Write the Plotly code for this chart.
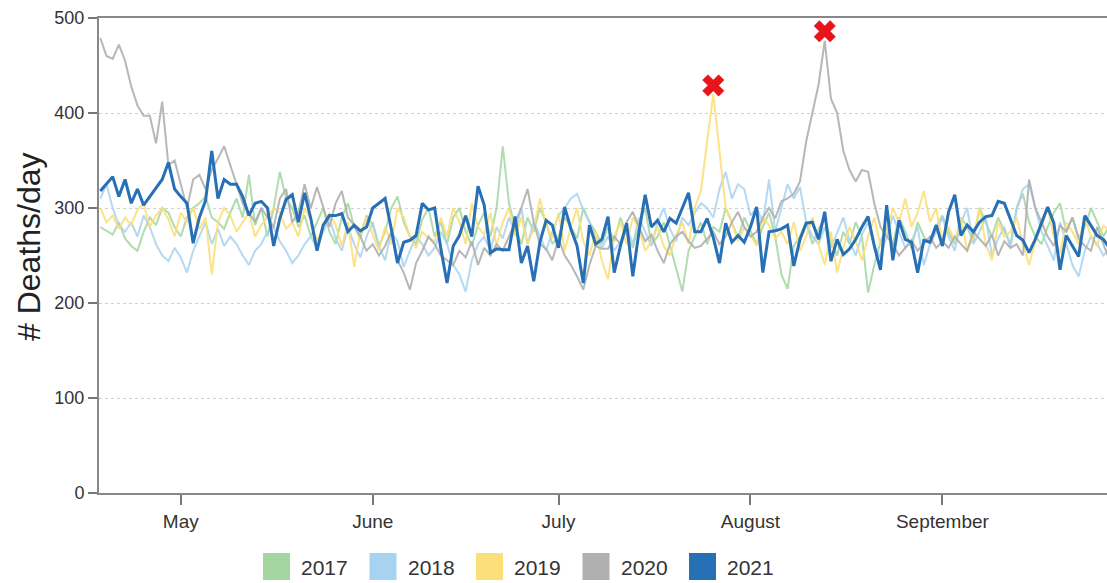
import plotly.graph_objects as go
import pandas as pd

# ---------------- data ----------------
years = ["2017", "2018", "2019", "2020", "2021"]
start_date = "2021-04-18"
month_ticks = ["2021-05-01", "2021-06-01", "2021-07-01", "2021-08-01", "2021-09-01"]
month_labels = ["May", "June", "July", "August", "September"]
y_ticks = [0, 100, 200, 300, 400, 500]

deaths_2017 = [
    280, 276, 272, 285, 268, 260, 255, 275, 290, 282, 300, 295, 280, 270, 290, 300, 305, 312, 290, 285,
    278, 295, 310, 290, 335, 282, 300, 270,
    300, 338, 310, 300, 280, 292, 270, 285, 300, 275, 262, 290, 305, 280, 268, 292, 282, 260, 275, 300,
    312, 285, 270, 262, 288, 300,
    270, 285, 262, 290, 300, 275, 260, 282, 295, 270, 300, 365, 305, 280, 262, 290, 275, 300, 285, 262,
    270, 290, 280, 268, 300, 285, 275, 262,
    280, 265, 290, 272, 258, 285, 300, 262, 270, 285, 260, 235, 212, 255, 270, 285, 262, 280, 275, 300,
    285, 268, 290, 275, 262, 280, 295, 270,
    230, 215, 260, 270, 285, 262, 278, 290, 265, 250, 275, 262, 285, 270, 211, 240, 265, 280, 262, 290,
    275, 258, 285, 270, 262, 280, 292,
    275, 262, 290, 280, 265, 300, 285, 270, 290, 275, 262, 300, 315, 285, 270, 262, 280, 295, 305, 275,
    290, 268, 280, 300, 285, 270, 282,
]
deaths_2018 = [
    310, 325, 300, 282, 275, 285, 270, 292, 280, 262, 250, 244, 258, 248, 232, 255, 270, 285, 262, 278,
    260, 270, 262, 250, 240, 255, 262, 275,
    280, 265, 255, 242, 250, 262, 270, 258, 275, 290, 268, 255, 280, 262, 248, 270, 285, 260, 245, 275,
    265, 238, 255, 270, 262, 250,
    258, 275, 262, 240, 230, 212, 245, 262, 270, 255, 280, 268, 290, 275, 300, 262, 285, 270, 255, 275,
    292, 300, 310, 315, 298, 285, 270, 258,
    270, 255, 265, 280, 262, 290, 275, 260, 285, 300, 278, 265, 290, 282, 295, 305, 300, 290, 320, 338,
    310, 325, 320, 292, 300, 285, 330, 275,
    300, 325, 310, 322, 285, 270, 262, 280, 258, 275, 290, 265, 250, 272, 285, 260, 248, 270, 292, 275,
    258, 265, 280, 240, 262, 275, 290,
    270, 255, 285, 300, 262, 275, 290, 250, 268, 280, 258, 300, 320, 325, 300, 275, 260, 245, 285, 262,
    240, 228, 255, 270, 262, 250, 258,
]
deaths_2019 = [
    300, 285, 292, 278, 290, 282, 298, 305, 280, 292, 300, 288, 270, 295, 285, 300, 278, 290, 230, 285,
    300, 292, 275, 285, 295, 270, 282, 290,
    300, 295, 278, 285, 270, 300, 288, 265, 280, 295, 282, 260, 285, 238, 275, 290, 272, 255, 280, 262,
    300, 290, 270, 258, 275, 268,
    265, 290, 270, 300, 285, 262, 305, 280, 272, 295, 260, 285, 300, 270, 290, 262, 278, 310, 282, 268,
    295, 255, 280, 300, 265, 250, 275, 245,
    225, 270, 285, 262, 290, 278, 255, 265, 280, 260, 250, 272, 285, 262, 300, 318, 370, 420, 360, 300,
    285, 265, 280, 272, 260, 290, 282, 268,
    275, 262, 285, 255, 270, 290, 262, 240, 275, 232, 258, 280, 265, 245, 270, 290, 260, 275, 300, 285,
    310, 280, 295, 318, 285, 300, 265,
    280, 265, 290, 255, 270, 300, 262, 245, 285, 270, 275, 290, 262, 240, 265, 280, 300, 270, 252, 285,
    275, 262, 290, 270, 260, 282, 275,
]
deaths_2020 = [
    479, 460, 457, 472, 455, 428, 408, 397, 397, 368, 412, 345, 350, 325, 300, 330, 335, 320, 340, 352,
    365, 345, 325, 305,
    295, 285, 300, 290, 280, 310, 320, 285, 295, 325, 300, 322, 300, 280, 305, 318, 290, 282, 270, 255,
    262, 250, 260, 275, 245, 232, 214, 242, 255, 270,
    262, 250, 245, 240, 255, 248, 265, 240, 258, 250, 262, 255, 270, 285, 300, 320, 285, 262, 257, 245,
    268, 250, 240, 228, 214, 240, 260, 257,
    257, 270, 262, 285, 296, 280, 265, 272, 255, 242, 262, 270, 275, 265, 258, 260, 268, 275, 262, 270,
    285, 296, 280, 270, 275, 290, 300, 289,
    307, 310, 315, 328, 370, 400, 430, 476, 415, 400, 360, 340, 328, 340, 338, 305, 280, 270, 262, 250,
    258, 266, 255, 262, 270, 258, 265,
    258, 270, 262, 255, 275, 268, 260, 272, 250, 265, 258, 262, 250, 330, 300, 285, 270, 260, 282, 275,
    290, 268, 260, 255, 280, 262, 245,
]
deaths_2021 = [
    318, 325, 333, 312, 330, 305, 320, 303, 312, 322, 330, 348, 320, 312, 305, 263, 290, 308, 360, 310,
    330, 325, 325, 312, 292, 305, 307, 300,
    260, 289, 309, 314, 285, 316, 289, 255, 282, 292, 292, 294, 275, 282, 276, 280, 300, 305, 310, 278,
    242, 264, 266, 271, 305, 298,
    300, 257, 221, 260, 271, 292, 270, 323, 303, 253, 257, 256, 256, 291, 242, 260, 223, 264, 287, 282,
    258, 301, 278, 260, 221, 282, 262, 267,
    291, 232, 260, 284, 228, 275, 314, 280, 287, 275, 289, 284, 300, 316, 275, 275, 289, 269, 242, 284,
    264, 271, 264, 280, 301, 232, 275,
    276, 278, 282, 239, 267, 284, 285, 267, 296, 244, 267, 251, 257, 267, 280, 291, 260, 235, 303, 245,
    287, 267, 264, 232, 266, 264, 282, 260,
    296, 314, 271, 282, 275, 285, 291, 292, 307, 305, 289, 271, 266, 253, 267, 285, 301, 284, 235, 271,
    260, 249, 292, 282, 271, 267, 258,
]
peak_dates = ["2021-07-26", "2021-08-13"]
peak_values = [429, 486]

series = [deaths_2017, deaths_2018, deaths_2019, deaths_2020, deaths_2021]
dates = pd.date_range(start_date, periods=len(deaths_2021), freq="D")

# ---------------- style ----------------
colors = ["#a3d6a0", "#a8d3f0", "#fbe07a", "#b0b0b0", "#2770b5"]
widths = [2, 2, 2, 2, 3]
opac = [0.85, 0.85, 0.9, 0.9, 1.0]
FONT = "Liberation Sans, Arial, sans-serif"
W, H = 1107, 583
L, R, T, B = 99, 0, 18, 90

fig = go.Figure()
for yr, vals, c, w, o in zip(years, series, colors, widths, opac):
    fig.add_trace(go.Scatter(
        x=dates, y=vals, mode="lines", name=yr,
        line=dict(color=c, width=w), opacity=o, showlegend=False,
    ))

fig.add_trace(go.Scatter(
    x=pd.to_datetime(peak_dates), y=peak_values, mode="markers",
    marker=dict(symbol="x", size=19, color="#e8141b", line=dict(width=0.5, color="#e8141b")),
    showlegend=False,
))

pw = W - L - R
ph = H - T - B

def px2paper_x(px):
    return (px - L) / pw

def px2paper_y(py):
    return (H - B - py) / ph

shapes = []
annotations = []
for i, (yr, c) in enumerate(zip(years, colors)):
    x0 = 263 + i * 106.5
    shapes.append(dict(type="rect", xref="paper", yref="paper",
                       x0=px2paper_x(x0), x1=px2paper_x(x0 + 27),
                       y0=px2paper_y(580), y1=px2paper_y(553),
                       fillcolor=c, line=dict(width=0)))
    annotations.append(dict(xref="paper", yref="paper", x=px2paper_x(x0 + 36), y=px2paper_y(567),
                            text=yr, showarrow=False, xanchor="left", yanchor="middle",
                            font=dict(family=FONT, size=21, color="#333333")))

annotations.append(dict(xref="paper", yref="paper", x=px2paper_x(29), y=px2paper_y(247),
                        text="# Deaths/day", textangle=-90, showarrow=False,
                        xanchor="center", yanchor="middle",
                        font=dict(family=FONT, size=32, color="#222222")))

fig.update_layout(
    width=W, height=H,
    margin=dict(l=L, r=R, t=T, b=B),
    paper_bgcolor="white", plot_bgcolor="white",
    shapes=shapes, annotations=annotations,
    xaxis=dict(
        range=["2021-04-17 19:00", "2021-09-27 14:00"],
        tickvals=pd.to_datetime(month_ticks), ticktext=month_labels,
        ticks="outside", ticklen=10, tickwidth=1.5, tickcolor="#777777",
        showline=True, linecolor="#888888", linewidth=2, mirror=True,
        showgrid=False, zeroline=False,
        tickfont=dict(family=FONT, size=19, color="#333333"),
    ),
    yaxis=dict(
        range=[0, 500], tickvals=y_ticks,
        ticks="outside", ticklen=9, tickwidth=1.5, tickcolor="#777777",
        showline=True, linecolor="#888888", linewidth=2,
        showgrid=True, gridcolor="#d0d0d0", griddash="dot", gridwidth=1,
        zeroline=False,
        tickfont=dict(family=FONT, size=18, color="#333333"),
    ),
)

fig.write_html(
    "out.html",
    config={"displayModeBar": False},
    post_script="document.body.style.margin='0px';document.body.style.overflow='hidden';",
)
